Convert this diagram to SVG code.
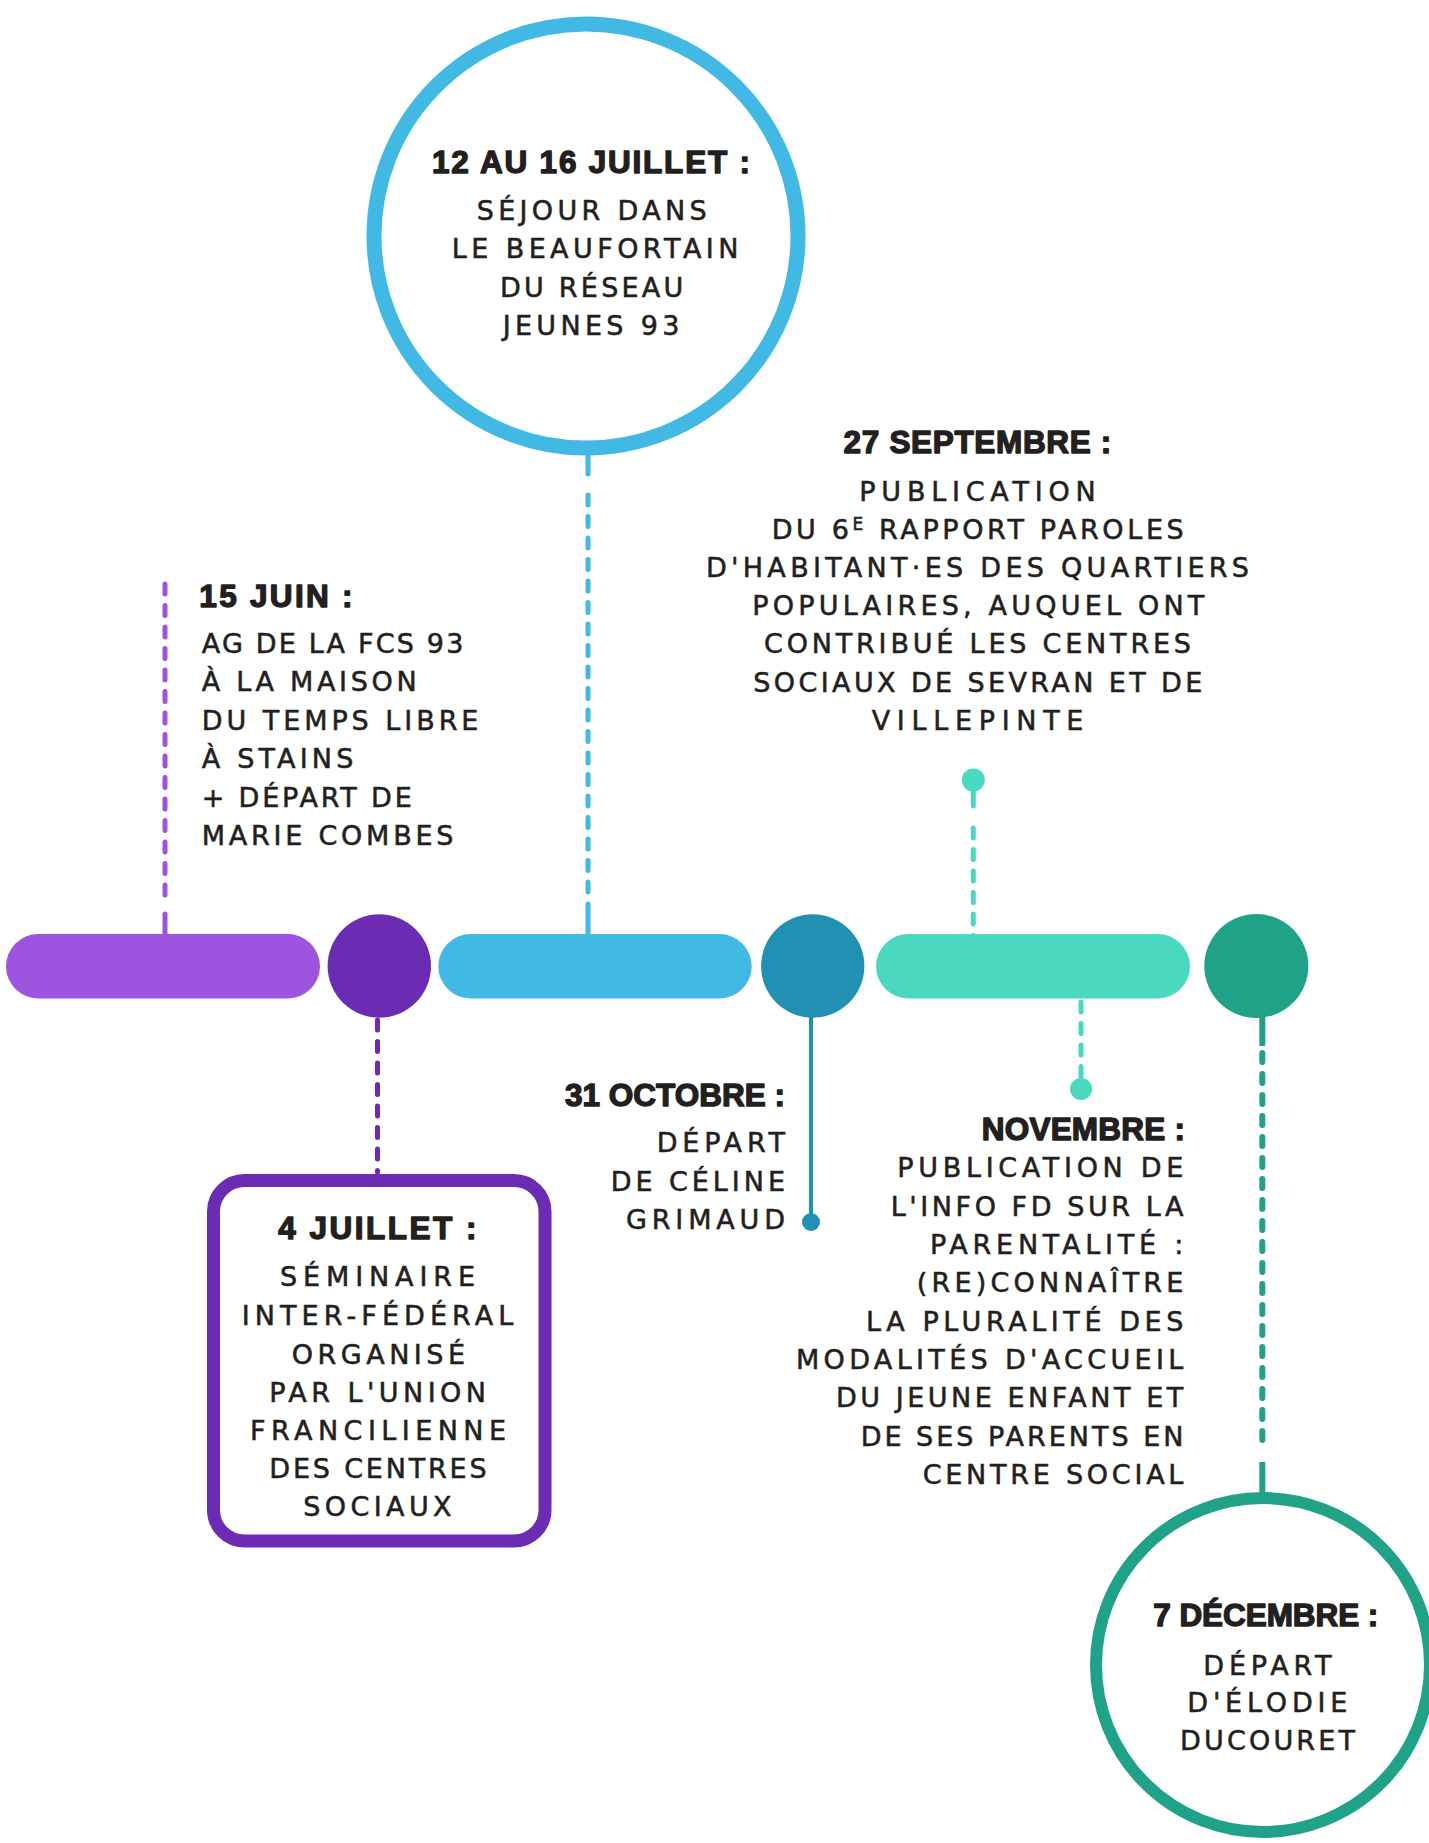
<svg xmlns="http://www.w3.org/2000/svg" width="1429" height="1843" viewBox="0 0 1429 1843">
<style>
.b{font-family:"DejaVu Sans","Liberation Sans",sans-serif;font-size:27px;fill:#231F20;stroke:#231F20;stroke-width:0.55}
.h{font-family:"Liberation Sans",Arial,sans-serif;font-weight:700;font-size:31.5px;fill:#231F20;stroke:#231F20;stroke-width:1.4;stroke-linejoin:round}
.dash{fill:none;stroke-width:5;stroke-linecap:round;stroke-dasharray:10 11.5}
.sol{fill:none;stroke-width:5;stroke-linecap:round}
</style>
<rect width="1429" height="1843" fill="#ffffff"/>

<g id="connectors">
  <!-- 15 juin -->
  <line class="dash" x1="165" y1="584" x2="165" y2="902" stroke="#9D55E0"/>
  <line class="sol" x1="165" y1="914" x2="165" y2="936" stroke="#9D55E0"/>
  <!-- 12-16 juillet -->
  <line class="sol" x1="588" y1="452" x2="588" y2="474" stroke="#42B8E4"/>
  <line class="dash" x1="588" y1="495" x2="588" y2="898" stroke="#42B8E4"/>
  <line class="sol" x1="588" y1="904" x2="588" y2="936" stroke="#42B8E4"/>
  <!-- 4 juillet -->
  <line class="dash" x1="377.5" y1="1020" x2="377.5" y2="1172" stroke="#6B2BB3"/>
  <!-- 27 septembre -->
  <circle cx="973.3" cy="780" r="11.5" fill="#4AD9BF"/>
  <line class="sol" x1="973.3" y1="782" x2="973.3" y2="806" stroke="#4AD9BF"/>
  <line class="dash" x1="973.3" y1="828" x2="973.3" y2="936" stroke="#4AD9BF"/>
  <!-- 31 octobre -->
  <line x1="811" y1="1010" x2="811" y2="1222" stroke="#2290B2" stroke-width="4"/>
  <circle cx="811" cy="1222" r="9" fill="#2290B2"/>
  <!-- novembre -->
  <line class="dash" x1="1081" y1="1002" x2="1081" y2="1078" stroke="#4AD9BF"/>
  <circle cx="1081" cy="1089" r="11" fill="#4AD9BF"/>
  <!-- 7 decembre -->
  <line x1="1262.3" y1="1010" x2="1262.3" y2="1046" stroke="#20A288" stroke-width="6"/>
  <line x1="1262.3" y1="1053" x2="1262.3" y2="1440" stroke="#20A288" stroke-width="6" stroke-linecap="round" stroke-dasharray="9 12"/>
  <line x1="1262.3" y1="1462" x2="1262.3" y2="1494" stroke="#20A288" stroke-width="6"/>
</g>

<g id="timeline">
  <rect id="bar-juin" x="6" y="934" width="314" height="64.5" rx="32.2" fill="#9D55E0"/>
  <circle id="dot-juillet" cx="379.3" cy="966" r="51.7" fill="#6B2BB3"/>
  <rect id="bar-aout" x="438.3" y="934" width="313.4" height="64.5" rx="32.2" fill="#42B8E4"/>
  <circle id="dot-octobre" cx="812.7" cy="966" r="51.7" fill="#2290B2"/>
  <rect id="bar-sept" x="876" y="934" width="314" height="64.5" rx="32.2" fill="#4AD9BF"/>
  <circle id="dot-decembre" cx="1256.3" cy="966" r="52" fill="#20A288"/>
</g>

<g id="node-12-16-juillet">
  <circle cx="586" cy="236" r="212" fill="#ffffff" stroke="#42B8E4" stroke-width="15"/>
  <text class="h" x="432" y="173" textLength="318" lengthAdjust="spacing">12 AU 16 JUILLET :</text>
  <text class="b" x="476.7" y="220" textLength="230" lengthAdjust="spacing">SÉJOUR DANS</text>
  <text class="b" x="451.7" y="258.3" textLength="286.7" lengthAdjust="spacing">LE BEAUFORTAIN</text>
  <text class="b" x="500" y="296.7" textLength="183.3" lengthAdjust="spacing">DU RÉSEAU</text>
  <text class="b" x="502.7" y="335" textLength="176.7" lengthAdjust="spacing">JEUNES 93</text>
</g>

<g id="node-15-juin">
  <text class="h" x="199.3" y="606.7" textLength="153.3" lengthAdjust="spacing">15 JUIN :</text>
  <text class="b" x="201.7" y="652.7" textLength="261.7" lengthAdjust="spacing">AG DE LA FCS 93</text>
  <text class="b" x="201.7" y="691" textLength="215" lengthAdjust="spacing">À LA MAISON</text>
  <text class="b" x="201.7" y="730" textLength="276.7" lengthAdjust="spacing">DU TEMPS LIBRE</text>
  <text class="b" x="201.7" y="768.3" textLength="151.7" lengthAdjust="spacing">À STAINS</text>
  <text class="b" x="201.7" y="806.7" textLength="210" lengthAdjust="spacing">+ DÉPART DE</text>
  <text class="b" x="201.7" y="845" textLength="251.7" lengthAdjust="spacing">MARIE COMBES</text>
</g>

<g id="node-27-septembre">
  <text class="h" x="843.6" y="453.3" textLength="267.7" lengthAdjust="spacing">27 SEPTEMBRE :</text>
  <text class="b" x="859.3" y="501" textLength="236.4" lengthAdjust="spacing">PUBLICATION</text>
  <text class="b" x="771.7" y="539" textLength="412" lengthAdjust="spacing">DU 6<tspan font-size="17" dy="-9">E</tspan><tspan dy="9"> RAPPORT PAROLES</tspan></text>
  <text class="b" x="706" y="576.7" textLength="543" lengthAdjust="spacing">D'HABITANT·ES DES QUARTIERS</text>
  <text class="b" x="752.3" y="615" textLength="452" lengthAdjust="spacing">POPULAIRES, AUQUEL ONT</text>
  <text class="b" x="764" y="653.3" textLength="427" lengthAdjust="spacing">CONTRIBUÉ LES CENTRES</text>
  <text class="b" x="753.3" y="691.7" textLength="449" lengthAdjust="spacing">SOCIAUX DE SEVRAN ET DE</text>
  <text class="b" x="871.7" y="730" textLength="211.7" lengthAdjust="spacing">VILLEPINTE</text>
</g>

<g id="node-4-juillet">
  <rect x="213.5" y="1180.5" width="331.5" height="360.5" rx="31" fill="#ffffff" stroke="#6B2BB3" stroke-width="13"/>
  <text class="h" x="278.3" y="1238.6" textLength="198.3" lengthAdjust="spacing">4 JUILLET :</text>
  <text class="b" x="280" y="1285.7" textLength="195" lengthAdjust="spacing">SÉMINAIRE</text>
  <text class="b" x="241.7" y="1325" textLength="271.7" lengthAdjust="spacing">INTER-FÉDÉRAL</text>
  <text class="b" x="291.7" y="1363.6" textLength="173.3" lengthAdjust="spacing">ORGANISÉ</text>
  <text class="b" x="269.3" y="1401.8" textLength="216.7" lengthAdjust="spacing">PAR L'UNION</text>
  <text class="b" x="250" y="1440" textLength="256" lengthAdjust="spacing">FRANCILIENNE</text>
  <text class="b" x="269.3" y="1478" textLength="217.3" lengthAdjust="spacing">DES CENTRES</text>
  <text class="b" x="303.3" y="1516" textLength="148.3" lengthAdjust="spacing">SOCIAUX</text>
</g>

<g id="node-31-octobre">
  <text class="h" x="565" y="1106" textLength="220" lengthAdjust="spacing">31 OCTOBRE :</text>
  <text class="b" x="656.7" y="1151.7" textLength="128.3" lengthAdjust="spacing">DÉPART</text>
  <text class="b" x="610.7" y="1190.7" textLength="174.3" lengthAdjust="spacing">DE CÉLINE</text>
  <text class="b" x="626" y="1229" textLength="159" lengthAdjust="spacing">GRIMAUD</text>
</g>

<g id="node-novembre">
  <text class="h" x="981.7" y="1140" textLength="203.3" lengthAdjust="spacing">NOVEMBRE :</text>
  <text class="b" x="897.3" y="1177.3" textLength="286" lengthAdjust="spacing">PUBLICATION DE</text>
  <text class="b" x="890.7" y="1215.7" textLength="292.7" lengthAdjust="spacing">L'INFO FD SUR LA</text>
  <text class="b" x="930" y="1254" textLength="253.3" lengthAdjust="spacing">PARENTALITÉ :</text>
  <text class="b" x="916.7" y="1292.3" textLength="266.7" lengthAdjust="spacing">(RE)CONNAÎTRE</text>
  <text class="b" x="866" y="1330.7" textLength="317.3" lengthAdjust="spacing">LA PLURALITÉ DES</text>
  <text class="b" x="796" y="1369" textLength="387.3" lengthAdjust="spacing">MODALITÉS D'ACCUEIL</text>
  <text class="b" x="836" y="1407.3" textLength="347.3" lengthAdjust="spacing">DU JEUNE ENFANT ET</text>
  <text class="b" x="860.7" y="1445.7" textLength="322.7" lengthAdjust="spacing">DE SES PARENTS EN</text>
  <text class="b" x="922.7" y="1484" textLength="260.7" lengthAdjust="spacing">CENTRE SOCIAL</text>
</g>

<g id="node-7-decembre">
  <circle cx="1263" cy="1665" r="167" fill="#ffffff" stroke="#20A288" stroke-width="12"/>
  <text class="h" x="1153.3" y="1626.3" textLength="225" lengthAdjust="spacing">7 DÉCEMBRE :</text>
  <text class="b" x="1203.3" y="1674.7" textLength="128.3" lengthAdjust="spacing">DÉPART</text>
  <text class="b" x="1187.3" y="1712.4" textLength="160" lengthAdjust="spacing">D'ÉLODIE</text>
  <text class="b" x="1180" y="1750" textLength="175" lengthAdjust="spacing">DUCOURET</text>
</g>
</svg>
